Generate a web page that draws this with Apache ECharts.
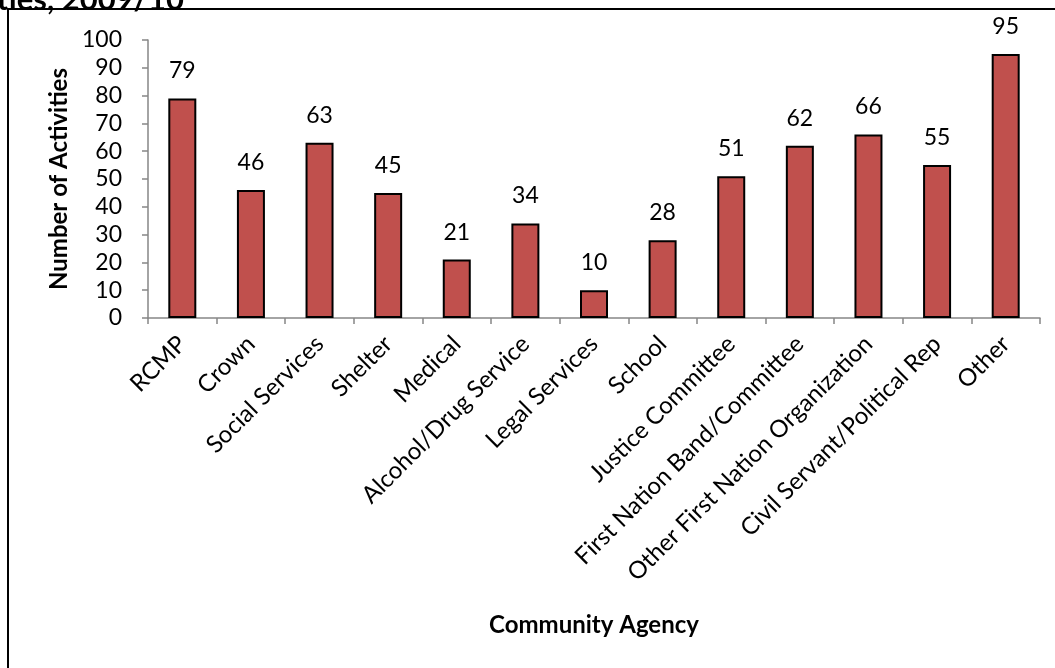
<!DOCTYPE html>
<html>
<head>
<meta charset="utf-8">
<script src="https://cdn.jsdelivr.net/npm/echarts@6/dist/echarts.min.js"></script>
<style>
  html, body { margin: 0; padding: 0; background: #fff; }
  #chart { width: 1055px; height: 668px; }
</style>
</head>
<body>
<div id="chart"></div>
<script>
// community agencies and number of activities
const agencies = [
  "RCMP", "Crown", "Social Services", "Shelter", "Medical",
  "Alcohol/Drug Service", "Legal Services", "School", "Justice Committee",
  "First Nation Band/Committee", "Other First Nation Organization",
  "Civil Servant/Political Rep", "Other"
];
const activities = [79, 46, 63, 45, 21, 34, 10, 28, 51, 62, 66, 55, 95];
const yTicks = [0, 10, 20, 30, 40, 50, 60, 70, 80, 90, 100];

const font = "Lato, 'Open Sans', sans-serif";
const chart = echarts.init(document.getElementById("chart"));

const option = {
  backgroundColor: "#fff",
  animation: false,
  textStyle: { fontFamily: font },
  grid: {
    left: 148,
    right: 15,
    top: 40,
    bottom: 350,
  },
  graphic: [
    {
      type: "polyline",
      shape: { points: [[8, 668], [8, 9], [1060, 9]] },
      style: { stroke: "#000", lineWidth: 2, fill: null },
    },
    {
      // clipped chart title at the top of the box
      type: "text",
      x: 184,
      y: 15,
      style: {
        text: "ities, 2009/10",
        font: "bold 31px " + font,
        fill: "#000",
        align: "right",
        verticalAlign: "bottom",
      },
    },
  ],
  xAxis: {
    type: "category",
    data: agencies,
    axisLine: { lineStyle: { color: "#868686", width: 1.5 } },
    axisTick: { show: true, length: 6, lineStyle: { color: "#868686", width: 1.5 } },
    axisLabel: {
      rotate: 45,
      interval: 0,
      margin: 22,
      color: "#000",
      fontSize: 24,
      fontFamily: font,
    },
    name: "Community Agency",
    nameLocation: "middle",
    nameGap: 295,
    nameTextStyle: { fontSize: 24, fontWeight: "bold", color: "#000", fontFamily: font },
  },
  yAxis: {
    type: "value",
    min: yTicks[0],
    max: yTicks[yTicks.length - 1],
    interval: 10,
    splitLine: { show: false },
    axisLine: { show: true, lineStyle: { color: "#868686", width: 1.5 } },
    axisTick: { show: true, length: 6, lineStyle: { color: "#868686", width: 1.5 } },
    axisLabel: { color: "#000", fontSize: 23, margin: 26, fontFamily: font },
    name: "Number of Activities",
    nameLocation: "middle",
    nameGap: 74,
    nameTextStyle: { fontSize: 24, fontWeight: "bold", color: "#000", fontFamily: font },
  },
  series: [
    {
      type: "bar",
      data: activities,
      barWidth: 28,
      itemStyle: { color: "#C0504D", borderColor: "#000", borderWidth: 2 },
      label: {
        show: true,
        position: "top",
        distance: 16,
        color: "#000",
        fontSize: 23,
        fontFamily: font,
      },
    },
  ],
};

chart.setOption(option);
</script>
</body>
</html>
